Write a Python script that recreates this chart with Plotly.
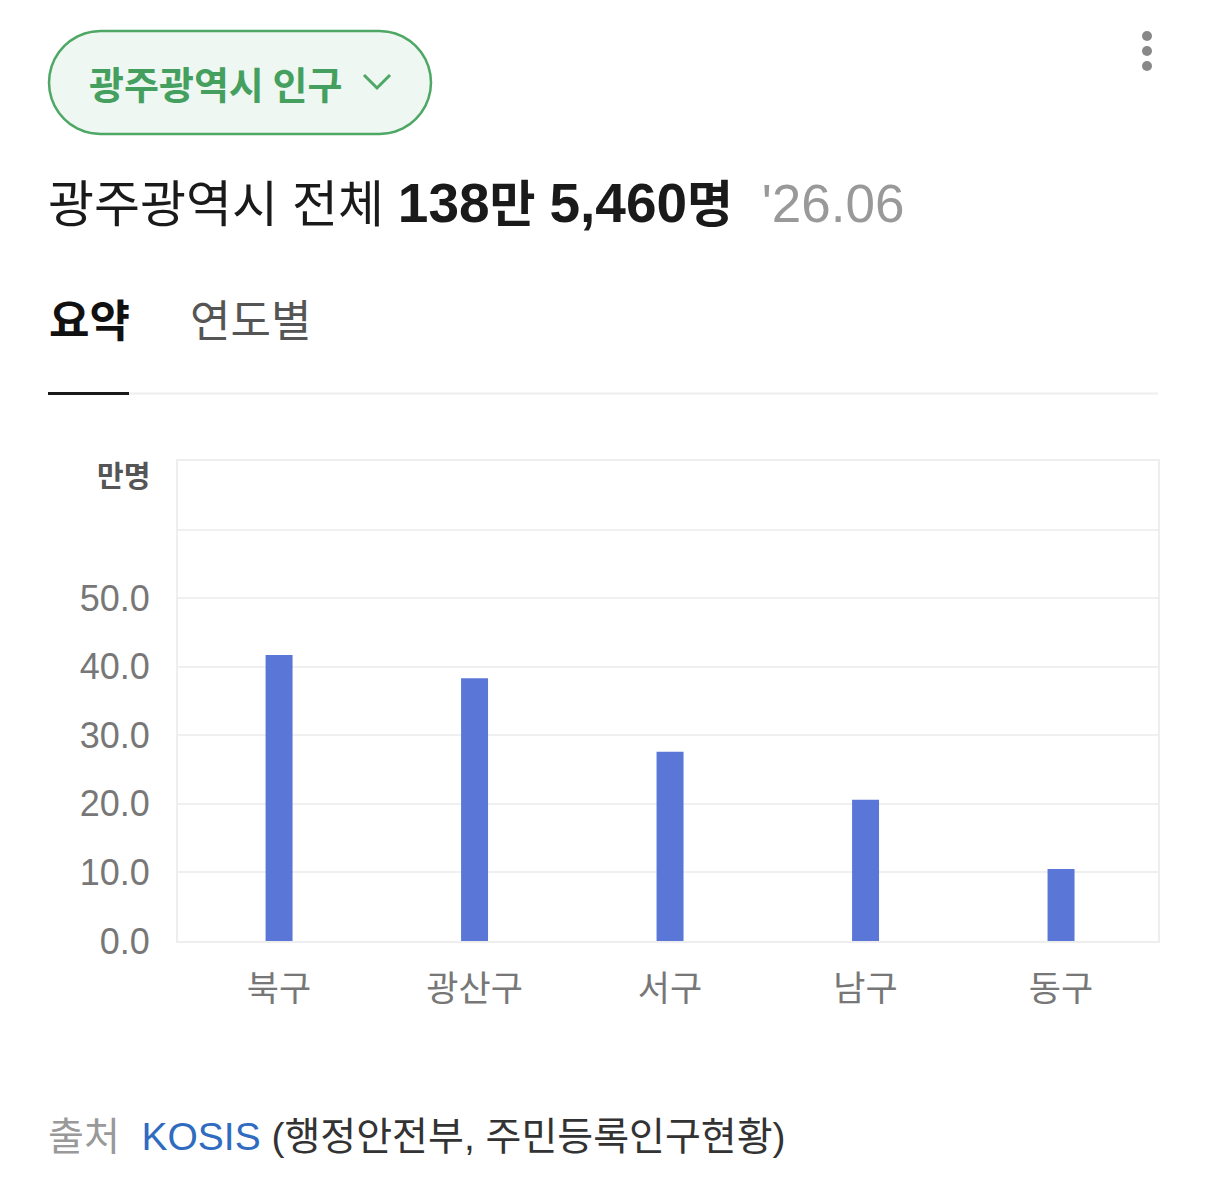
import math
import plotly.graph_objects as go

categories = ["북구", "광산구", "서구", "남구", "동구"]
values = [41.7, 38.3, 27.6, 20.6, 10.5]
tick_vals = [0, 10, 20, 30, 40, 50, 60, 70]
tick_text = ["0.0", "10.0", "20.0", "30.0", "40.0", "50.0", "", ""]

W, H = 1206, 1192
L, R, T, B = 178, 1158, 461, 941
FONT = "Liberation Sans, Noto Sans CJK KR, sans-serif"
KFONT = "Noto Sans CJK KR, Liberation Sans, sans-serif"


def px(x):
    return (x - L) / (R - L)


def py(y):
    return (B - y) / (B - T)


fig = go.Figure(go.Bar(x=categories, y=values, marker=dict(color="#5a77d7", line=dict(width=0)),
                       hoverinfo="x+y"))

shapes = []
annotations = []


def pill_path(x0, x1, y0, y1, r):
    path = f"M {px(x0 + r)},{py(y0)} L {px(x1 - r)},{py(y0)} "
    n = 20
    for i in range(1, n + 1):
        a = -math.pi / 2 + math.pi * i / n
        path += f"L {px(x1 - r + r * math.cos(a))},{py(y0 + r + r * math.sin(a))} "
    path += f"L {px(x0 + r)},{py(y1)} "
    for i in range(1, n + 1):
        a = math.pi / 2 + math.pi * i / n
        path += f"L {px(x0 + r + r * math.cos(a))},{py(y0 + r + r * math.sin(a))} "
    path += "Z"
    return path


shapes.append(dict(type="path", xref="paper", yref="paper", path=pill_path(49, 431, 31, 134, 51.5),
                   fillcolor="#eef7f1", line=dict(color="#4ea765", width=2.5), layer="above"))
# chevron
shapes.append(dict(type="path", xref="paper", yref="paper",
                   path=f"M {px(364)},{py(75)} L {px(377)},{py(88)} L {px(390)},{py(75)}",
                   line=dict(color="#4ea765", width=3)))
annotations.append(dict(x=px(87), y=py(83), xref="paper", yref="paper", xanchor="left", yanchor="middle",
                        text="<b>광주광역시 인구</b>", showarrow=False,
                        font=dict(family=KFONT, size=38, color="#45a05f")))

# three dots
for cy in (36, 51, 66):
    shapes.append(dict(type="circle", xref="paper", yref="paper",
                       x0=px(1142), x1=px(1152), y0=py(cy - 5), y1=py(cy + 5),
                       fillcolor="#888888", line=dict(width=0)))

# title line
annotations.append(dict(x=px(46), y=py(203), xref="paper", yref="paper", xanchor="left", yanchor="middle",
                        text="광주광역시 전체 <b><span style='font-size:55px'>138</span>만 "
                             "<span style='font-size:55px'>5,460</span>명</b> "
                             "<span style='color:#999999;font-size:53px'> '26.06</span>",
                        showarrow=False, font=dict(family=FONT, size=50, color="#1a1a1a")))

# tabs
annotations.append(dict(x=px(47), y=py(318), xref="paper", yref="paper", xanchor="left", yanchor="middle",
                        text="<b>요약</b>", showarrow=False,
                        font=dict(family=KFONT, size=44, color="#111111")))
annotations.append(dict(x=px(188), y=py(318), xref="paper", yref="paper", xanchor="left", yanchor="middle",
                        text="연도별", showarrow=False,
                        font=dict(family=KFONT, size=44, color="#555555")))
shapes.append(dict(type="line", xref="paper", yref="paper", x0=px(129), x1=px(1158), y0=py(393.5), y1=py(393.5),
                   line=dict(color="#eeeeee", width=2)))
shapes.append(dict(type="line", xref="paper", yref="paper", x0=px(48), x1=px(129), y0=py(393.5), y1=py(393.5),
                   line=dict(color="#1a1a1a", width=3)))

# unit label
annotations.append(dict(x=px(152), y=py(474), xref="paper", yref="paper", xanchor="right", yanchor="middle",
                        text="<b>만명</b>", showarrow=False,
                        font=dict(family=KFONT, size=29, color="#555555")))

# source
annotations.append(dict(x=px(46), y=py(1136), xref="paper", yref="paper", xanchor="left", yanchor="middle",
                        text="<span style='color:#999999'>출처</span>  <span style='color:#2f6bbf'>KOSIS</span> (행정안전부, 주민등록인구현황)",
                        showarrow=False, font=dict(family=FONT, size=39, color="#333333")))

fig.update_layout(
    width=W, height=H,
    margin=dict(l=L, r=W - R, t=T, b=H - B, pad=0),
    paper_bgcolor="white", plot_bgcolor="white",
    bargap=0.862,
    showlegend=False,
    shapes=shapes,
    annotations=annotations,
    font=dict(family=FONT),
)
fig.update_yaxes(range=[0, 70], tickvals=tick_vals, ticktext=tick_text,
                 showgrid=True, gridcolor="#f0f0f0", gridwidth=2,
                 showline=True, linecolor="#eeeeee", linewidth=2, mirror=True,
                 zeroline=False, ticks="", ticklabelstandoff=19,
                 tickfont=dict(family=FONT, size=36, color="#777777"), fixedrange=True)
fig.update_xaxes(range=[-0.517, 4.496], showline=True, linecolor="#eeeeee", linewidth=2, mirror=True,
                 showgrid=False, ticks="", ticklabelstandoff=16,
                 tickfont=dict(family=KFONT, size=35, color="#777777"), fixedrange=True)

fig.write_html("out.html", config=dict(displayModeBar=False))
